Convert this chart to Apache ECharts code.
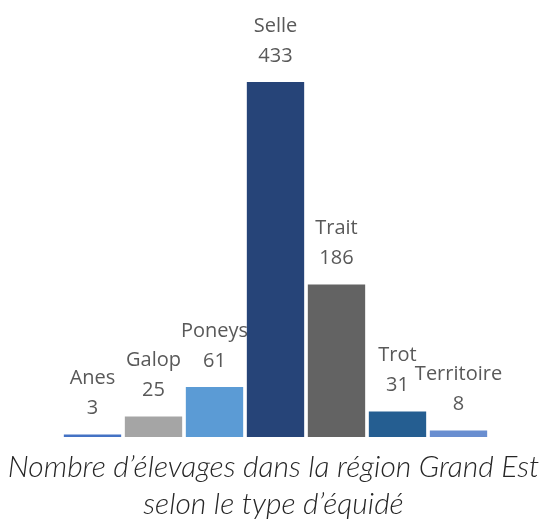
<!DOCTYPE html>
<html>
<head>
<meta charset="utf-8">
<script src="https://cdn.jsdelivr.net/npm/echarts@6/dist/echarts.min.js"></script>
<style>
html,body{margin:0;padding:0;background:#fff;}
#chart{width:547px;height:519px;}
</style>
</head>
<body>
<div id="chart"></div>
<script>
// types d'équidés et nombre d'élevages
const categories = ['Anes', 'Galop', 'Poneys', 'Selle', 'Trait', 'Trot', 'Territoire'];
const values = [3, 25, 61, 433, 186, 31, 8];
const colors = ['#4472C4', '#A5A5A5', '#5B9BD5', '#264478', '#636363', '#255E91', '#698ED0'];

const chart = echarts.init(document.getElementById('chart'));

const option = {
  animation: false,
  title: {
    text: 'Nombre d\u2019élevages dans la région Grand Est\nselon le type d\u2019équidé',
    left: 'center',
    top: 444,
    textStyle: {
      fontFamily: 'Lato',
      fontStyle: 'italic',
      fontWeight: 300,
      fontSize: 30,
      lineHeight: 37,
      color: '#262626'
    }
  },
  grid: { left: 62, right: 58, top: 82, bottom: 82 },
  xAxis: {
    type: 'category',
    data: categories,
    axisLine: { show: false },
    axisTick: { show: false },
    axisLabel: { show: false }
  },
  yAxis: {
    type: 'value',
    min: 0,
    max: 433,
    show: false,
    splitLine: { show: false }
  },
  series: [{
    type: 'bar',
    data: values.map((v, i) => ({ value: v, itemStyle: { color: colors[i] } })),
    barCategoryGap: '6%',
    label: {
      show: true,
      position: 'top',
      distance: 11,
      formatter: p => p.name + '\n' + p.value,
      fontFamily: 'Open Sans',
      fontSize: 20,
      lineHeight: 30,
      color: '#595959'
    }
  }]
};

chart.setOption(option);
</script>
</body>
</html>
